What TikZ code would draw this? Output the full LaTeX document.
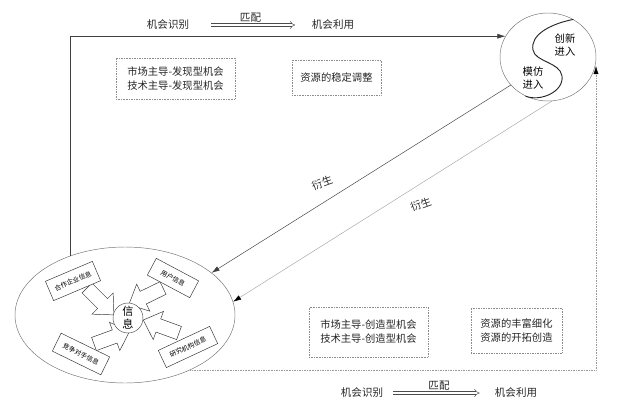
\documentclass[tikz,border=0pt]{standalone}
\usepackage{fontspec}
\setmainfont{Noto Sans CJK SC}
\usetikzlibrary{arrows.meta,positioning,calc,shapes.geometric}

\begin{document}
\begin{tikzpicture}[x=0.03cm, y=-0.03cm,
    flowtext/.style={font=\fontsize{9}{11}\selectfont, inner sep=1pt, text=black!85},
    matcharrow/.style={double, double distance=2pt, draw=black!70, -{Implies}},
    dotbox/.style={draw=black!45, densely dotted, align=center, inner sep=0pt, font=\fontsize{8.8}{12}\selectfont, text=black!85},
    infobox/.style={draw=black!80, fill=white, inner sep=0pt, align=center, font=\fontsize{5.6}{6}\selectfont},
    region/.style={draw=black!55, ellipse, inner sep=0pt},
    entrytext/.style={align=center, inner sep=0pt, font=\fontsize{8.8}{11}\selectfont},
    derive/.style={-{Latex[length=2.4mm,width=1.5mm]}, draw=black!75},
    derivegray/.style={-{Latex[length=2.4mm,width=1.5mm,color=black]}, draw=black!35},
    dotline/.style={draw=black!40, densely dotted, -{Latex[length=2.4mm,width=1.5mm,color=black]}},
    blockarrow/.pic={\draw[draw=black!80, fill=white] (0,-7) -- (22,-7) -- (22,-15) -- (38,0) -- (22,15) -- (22,7) -- (0,7) -- cycle;}
]
\useasboundingbox (0,0) rectangle (640,411);

% top and bottom matching rows
\node[flowtext] (rec1) at (168,25) {机会识别};
\node[flowtext] (use1) at (333,25) {机会利用};
\draw[matcharrow, shorten <=0.63cm, shorten >=0.46cm] (rec1) -- (use1) node[midway, above=1pt, flowtext] {匹配};
\node[flowtext] (rec2) at (362,393) {机会识别};
\node[flowtext] (use2) at (516,393) {机会利用};
\draw[matcharrow, shorten <=0.27cm, shorten >=0.42cm] (rec2) -- (use2) node[midway, above=1pt, flowtext] {匹配};

% entry circle and information field
\node[region, minimum width=2.88cm, minimum height=2.64cm] (circ) at (548,57) {};
\node[region, minimum width=6.6cm, minimum height=4.08cm] (info) at (125,315) {};
\draw[thick, black!85] (circ.56) .. controls (550,24) and (530,35) .. (533,50)
    .. controls (535,62) and (560,62) .. (562,76)
    .. controls (564,92) and (540,102) .. (circ.240);
\node[entrytext] (innov) at (565,45) {创新\\进入};
\node[entrytext] (imit) at (533,78) {模仿\\进入};

% opportunity and resource boxes
\node[dotbox, minimum width=3.57cm, minimum height=1.23cm] (find) at (175.5,78.5) {市场主导-发现型机会\\技术主导-发现型机会};
\node[dotbox, minimum width=2.67cm, minimum height=1.05cm] (steady) at (336.5,77.5) {资源的稳定调整};
\node[dotbox, minimum width=3.57cm, minimum height=1.5cm] (create) at (368.5,332) {市场主导-创造型机会\\技术主导-创造型机会};
\node[dotbox, minimum width=2.73cm, minimum height=1.35cm] (enrich) at (516.5,330.5) {资源的丰富细化\\资源的开拓创造};

% frame connectors
\draw[derive] (info.133) |- (circ.154);
\coordinate (rtip) at (596,66);
\draw[dotline] (info.-40) -| (rtip);
\draw[derive] (circ.217) -- (info.26) node[pos=0.6, shift={(-9,-14.5)}, rotate=20, flowtext] {衍生};
\draw[derivegray] (circ.-85) -- (info.7) node[pos=0.44, shift={(9.4,14.9)}, rotate=20, flowtext] {衍生};

% information flows into the core
\pic[rotate=-45] at (87,288) {blockarrow};
\pic[rotate=206] at (163,288) {blockarrow};
\pic[rotate=20] at (94,344) {blockarrow};
\pic[rotate=160] at (179,333) {blockarrow};
\node[infobox, rotate=23, minimum width=1.53cm, minimum height=0.63cm] (partner) at (73,281) {合作企业信息};
\node[infobox, rotate=-28, minimum width=1.44cm, minimum height=0.57cm] (user) at (173,278) {用户信息};
\node[infobox, rotate=-26, minimum width=1.62cm, minimum height=0.6cm] (rival) at (81,354) {竞争对手信息};
\node[infobox, rotate=25, minimum width=1.7cm, minimum height=0.57cm] (lab) at (188,347) {研究机构信息};
\node[draw=black!70, circle, fill=white, minimum size=0.9cm, inner sep=0pt, align=center, font=\fontsize{9.5}{11}\selectfont] (core) at (128,318) {信\\息};
\end{tikzpicture}
\end{document}
